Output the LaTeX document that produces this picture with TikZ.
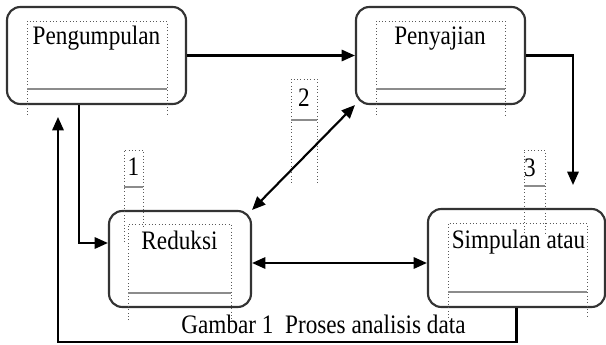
\documentclass[tikz,border=0pt]{standalone}
\usepackage{fontspec}
\setmainfont{Liberation Serif}[FakeStretch=0.87]
\usetikzlibrary{arrows.meta}
\tikzstyle{block} = [rectangle, draw=black!80, line width=1.6pt, rounded corners=10pt, inner sep=0]
\tikzstyle{txt} = [anchor=base, inner sep=0, font=\fontsize{20}{22}\selectfont]
\tikzstyle{frame} = [draw=black!65, dotted, line width=0.5pt]
\tikzstyle{rule} = [draw=black!45, line width=1.3pt]
\tikzstyle{line} = [draw, line width=1.6pt, -{Triangle[length=10pt,width=8.5pt]}]
\tikzstyle{dline} = [draw, line width=1.6pt, {Triangle[length=10pt,width=8.5pt]}-{Triangle[length=10pt,width=8.5pt]}]
\begin{document}
\begin{tikzpicture}[x=0.75pt, y=-0.75pt]
\useasboundingbox (0,0) rectangle (606,345);

\node [block, minimum width=134.25pt, minimum height=72.75pt] (P) at (96.5,55.5) {};
\node [block, minimum width=126.75pt, minimum height=72.75pt] (Y) at (440.5,55.5) {};
\node [block, minimum width=106.5pt, minimum height=72pt] (R) at (180,259) {};
\node [block, minimum width=132.75pt, minimum height=73.5pt] (S) at (516.5,258) {};

\draw [frame] (27,115) -- (27,21) -- (167,21) -- (167,115);
\draw [rule] (27,89) -- (167,89);
\draw [frame] (376,115) -- (376,21) -- (505,21) -- (505,115);
\draw [rule] (376,89) -- (505,89);
\draw [frame] (128,320) -- (128,224) -- (231,224) -- (231,320);
\draw [rule] (128,293) -- (231,293);
\draw [frame] (448,318) -- (448,223) -- (587,223) -- (587,318);
\draw [rule] (448,292) -- (587,292);

\draw [frame] (124,242) -- (124,150) -- (143,150) -- (143,228);
\draw [rule] (124,187) -- (143,187);
\draw [frame] (291,183) -- (291,79) -- (317,79) -- (317,183);
\draw [rule] (291,120) -- (317,120);
\draw [frame] (524,233) -- (524,150) -- (545,150) -- (545,233);
\draw [rule] (524,186) -- (545,186);

\node [txt] (Pt) at (96.5,45) {Pengumpulan};
\node [txt] (Yt) at (440,45) {Penyajian};
\node [txt] (Rt) at (179.5,249) {Reduksi};
\node [txt] (St) at (518.5,248) {Simpulan atau};
\node [txt] (n1) at (133.5,176) {1};
\node [txt] (n2) at (304,107) {2};
\node [txt] (n3) at (530,177) {3};
\node [txt] (cap) at (323.5,333) {Gambar 1\ \ Proses analisis data};

\coordinate (c1) at (573,185);
\coordinate (r1) at (58,342);
\coordinate (r2) at (58,117);

\path [line] (P) -- (Y);
\path [line] (Y.east) -| (c1);
\path [line] (P.south -| 79,0) |- (R.west |- 0,243);
\path [line] (S.south) |- (r1) -- (r2);
\path [dline] (R.east |- 0,263) -- (S.west |- 0,263);
\path [dline] (R.north east) -- (Y.south west);

\end{tikzpicture}
\end{document}
